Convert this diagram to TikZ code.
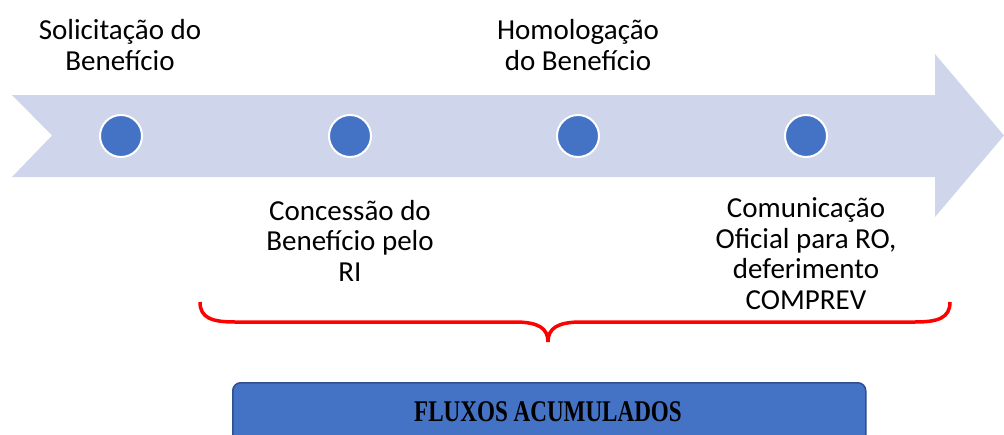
\documentclass[tikz,border=0pt]{standalone}
\usepackage{fontspec}
\setmainfont{Carlito}
\newfontfamily\boxfont{Liberation Serif}
\definecolor{arrowfill}{HTML}{CFD5EA}
\definecolor{dotblue}{HTML}{4472C4}
\definecolor{boxborder}{HTML}{2F4F8F}
\begin{document}
\begin{tikzpicture}[x=1pt,y=-1pt,
  dot/.style={circle,fill=dotblue,draw=white,line width=2pt,minimum size=42pt,inner sep=0pt},
  lbl/.style={align=center,font=\fontsize{29}{30.5}\selectfont,inner sep=0pt},
  bracecurve/.style={draw=red,line width=3.5pt},
  flowbox/.style={rounded corners=8pt,fill=dotblue,draw=boxborder,line width=1.5pt,minimum width=633pt,minimum height=60pt}]
\useasboundingbox (0,0) rectangle (1004,434);
% arrow
\fill[arrowfill] (12,95) -- (935,95) -- (935,54) -- (1004,135.5) -- (935,217) -- (935,177) -- (12,177) -- (52,135.5) -- cycle;
% dots
\node[dot] (d1) at (121,136) {};
\node[dot] (d2) at (350,136) {};
\node[dot] (d3) at (578,136) {};
\node[dot] (d4) at (806,136) {};
% labels (base anchor = baseline of the last line)
\node[lbl,anchor=base] (t1) at (120,70) {Solicitação do\\Benefício};
\node[lbl,anchor=base] (t3) at (578,70) {Homologação\\do Benefício};
\node[lbl,anchor=base] (t2) at (350,281) {Concessão do\\Benefício pelo\\RI};
\node[lbl,anchor=base] (t4) at (806,309) {Comunicação\\Oficial para RO,\\deferimento\\COMPREV};
% brace
\draw[bracecurve] (200,302) .. controls (200,318) and (212,322) .. (235,322) -- (515,322) .. controls (538,322) and (548,328) .. (548,342) .. controls (548,328) and (558,322) .. (581,322) -- (915,322) .. controls (938,322) and (950,318) .. (950,302);
% box
\node[flowbox,anchor=north west] (fb) at (232,382) {};
\node[font=\boxfont\bfseries\fontsize{30}{32}\selectfont,xscale=0.77] (fbt) at (548,412) {FLUXOS ACUMULADOS};
\end{tikzpicture}
\end{document}
